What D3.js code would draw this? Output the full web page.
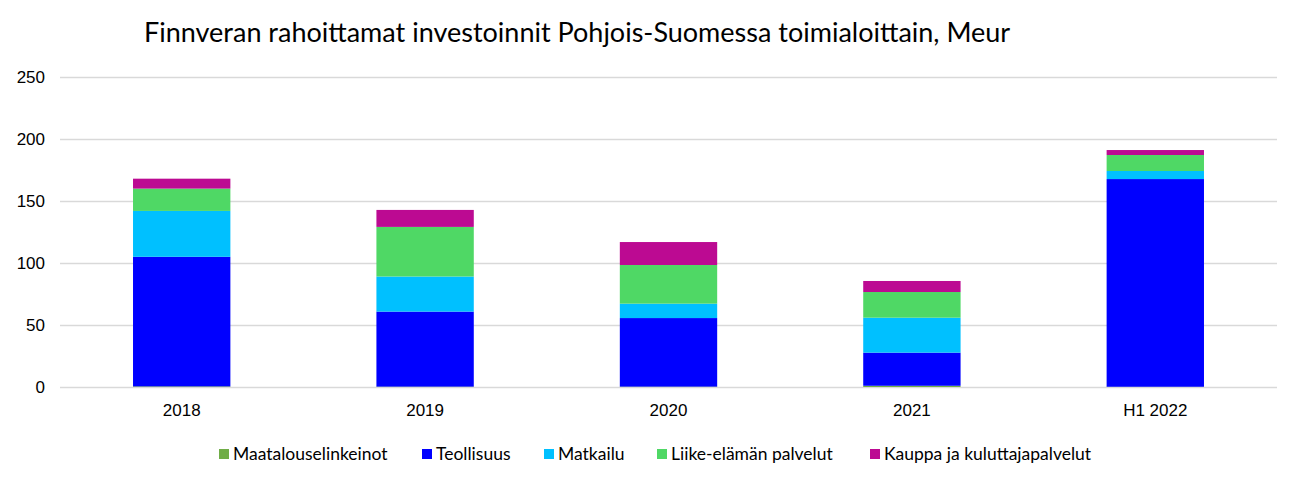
<!doctype html>
<html lang="fi">
<head>
<meta charset="utf-8" />
<title>Finnvera – investoinnit toimialoittain</title>
<style>
  html, body { margin: 0; padding: 0; background: #fff; }
  svg { display: block; font-family: Lato, "Open Sans", sans-serif; }
  .grid line { stroke: #d9d9d9; stroke-width: 1.5; }
  .tick text { fill: #000; font-size: 17px; }
</style>
</head>
<body>
<div id="chart"></div>
<script src="https://cdn.jsdelivr.net/npm/d3@7/dist/d3.min.js"></script>
<script>
// values (Meur)
const years = ['2018', '2019', '2020', '2021', 'H1 2022'];
const maatalous = [0.5, 0.3, 0.3, 1.0, 0.2];
const teollisuus = [104.5, 60.5, 55.3, 26.7, 167.5];
const matkailu = [37, 28.3, 11.6, 28.2, 6.5];
const liike = [18, 40, 31.2, 20.7, 12.9];
const kauppa = [8, 13.7, 18.5, 8.9, 4];
const yTicks = [0, 50, 100, 150, 200, 250];

const series = [
  { name: 'Maatalouselinkeinot', values: maatalous, color: '#70ad47' },
  { name: 'Teollisuus', values: teollisuus, color: '#0000ff' },
  { name: 'Matkailu', values: matkailu, color: '#00c0ff' },
  { name: 'Liike-elämän palvelut', values: liike, color: '#4fd865' },
  { name: 'Kauppa ja kuluttajapalvelut', values: kauppa, color: '#bc0a92' },
];

const W = 1299, H = 484;
const m = { top: 77, right: 22, bottom: 97, left: 60 };

const rows = years.map((y, i) => {
  const r = { year: y };
  series.forEach(s => { r[s.name] = s.values[i]; });
  return r;
});
const stacked = d3.stack().keys(series.map(s => s.name))(rows);

const x = d3.scaleBand().domain(years).range([m.left, W - m.right]).paddingInner(0.6).paddingOuter(0.3);
const y = d3.scaleLinear().domain([0, 250]).range([H - m.bottom, m.top]);

const svg = d3.select('#chart').append('svg').attr('width', W).attr('height', H);

svg.append('text')
  .attr('x', 144).attr('y', 42)
  .attr('font-size', 27).attr('fill', '#000')
  .text('Finnveran rahoittamat investoinnit Pohjois-Suomessa toimialoittain, Meur');

// gridlines + y labels
const gy = svg.append('g').attr('class', 'grid').attr('transform', `translate(${m.left},0)`)
  .call(d3.axisLeft(y).tickValues(yTicks).tickSize(-(W - m.left - m.right)).tickPadding(15));
gy.select('.domain').remove();

svg.append('g')
  .selectAll('g').data(stacked).join('g')
  .attr('fill', (d, i) => series[i].color)
  .selectAll('rect').data(d => d).join('rect')
  .attr('x', d => x(d.data.year))
  .attr('width', x.bandwidth())
  .attr('y', d => y(d[1]))
  .attr('height', d => y(d[0]) - y(d[1]));

const gx = svg.append('g').attr('transform', `translate(0,${H - m.bottom})`)
  .call(d3.axisBottom(x).tickSize(0).tickPadding(17));
gx.select('.domain').remove();

// legend
const legendX = [219, 422, 544, 657, 870];
const lg = svg.append('g').selectAll('g').data(series).join('g')
  .attr('transform', (d, i) => `translate(${legendX[i]},449)`);
lg.append('rect').attr('width', 10).attr('height', 10).attr('fill', d => d.color);
lg.append('text').attr('x', 14).attr('y', 11).attr('font-size', 17.5).attr('fill', '#000').text(d => d.name);
</script>
</body>
</html>
